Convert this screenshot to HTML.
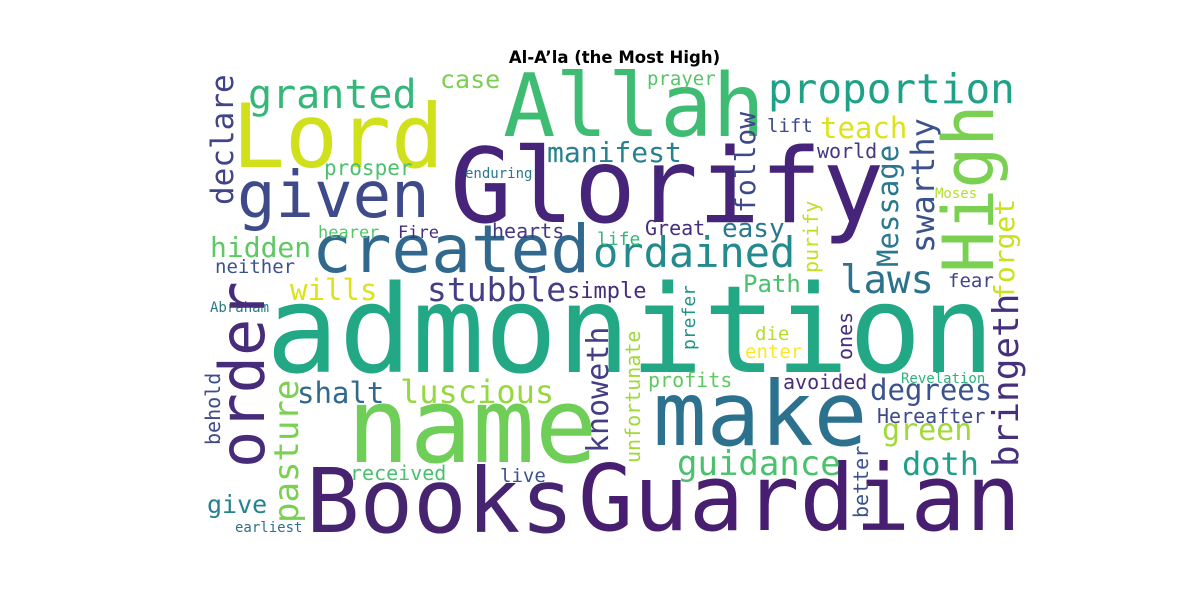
<!DOCTYPE html>
<html><head><meta charset="utf-8">
<style>
html,body{margin:0;padding:0;background:#fff;}
svg text{font-family:"DejaVu Sans Mono","Liberation Mono",monospace;}
</style></head>
<body>
<svg id="cloud" width="1200" height="600" viewBox="0 0 1200 600" xmlns="http://www.w3.org/2000/svg">
<rect width="1200" height="600" fill="#fff"/>
<text x="614.5" y="63" text-anchor="middle" style="font-family:'DejaVu Sans','Liberation Sans',sans-serif;font-weight:bold;font-size:16.5px" fill="#000">Al-A’la (the Most High)</text>
<g id="words"></g>
</svg>
<script>
const words = ["admonition","Glorify","Allah","Lord","given","created","name","make","Books","Guardian","proportion","granted","case","prayer","teach","lift","manifest","world","prosper","enduring","Moses","ordained","easy","laws","hidden","hearer","Fire","hearts","Great","life","neither","wills","stubble","simple","Path","fear","Abraham","die","enter","profits","avoided","Revelation","shalt","luscious","degrees","Hereafter","green","doth","guidance","received","live","give","earliest","High","declare","order","follow","swarthy","Message","purify","forget","bringeth","ones","prefer","unfortunate","knoweth","better","behold","pasture"];
const sizes = [121,103,87,88,64,66,104,89,89,92,41,40,25,19,29,19,28,20,21,14,14,42,26,39,28,17,17,20,20,18,19,29,33,22,24,19,14,19,19,20,20,14,29,32,29,20,30,32,34,20,19,25,14,70,31,62,28,32,29,20,28,36,20,18,20,30,20,20,34];
const colors = ["#22a884","#46247a","#3fbc73","#d0e11c","#3e4a89","#31688e","#6ece58","#2c728e","#46246f","#481f70","#1fa187","#35b779","#7ad151","#54c568","#dde318","#3e4a89","#26828e","#453781","#4ac16d","#2a788e","#b5de2b","#238a8d","#2a788e","#2c728e","#5ec962","#54c568","#472d7b","#443983","#472d7b","#35b779","#3b528b","#dde318","#433e85","#472c7a","#4ac16d","#414487","#2a788e","#b5de2b","#fde725","#5ec962","#472d7b","#2db27d","#31688e","#95d840","#3b528b","#3e4a89","#a0da39","#1f9e89","#4ac16d","#4ac16d","#3b528b","#26828e","#2e6e8e","#7ad151","#414487","#472c7a","#3e4989","#3b528b","#2a788e","#c2df23","#cae11f","#46307e","#472d7b","#20928c","#a0da39","#433e85","#3b528b","#3e4c8a","#7ad151"];
const layoutX = [266,450,503,232,237,312,347,653,306,578,768,248,440,647,820,767,547,817,324,465,935,593,722,840,210,318,398,492,645,597,215,290,427,567,743,948,210,755,745,648,783,901,297,400,870,877,882,902,677,350,500,207,235,993,233,264,755,934,898,818,1014,1018,852,695,640,608,868,220,298];
const layoutY = [372,222,136,167,217,272,462,445,532,530,103,108,88,85,138,132,162,158,175,178,198,267,237,293,257,238,238,238,235,245,273,300,301,298,292,287,312,340,358,387,389,383,403,403,400,423,440,475,475,480,482,513,532,273,205,468,213,253,267,273,300,467,360,350,463,453,518,445,523];
const rotated = [0,0,0,0,0,0,0,0,0,0,0,0,0,0,0,0,0,0,0,0,0,0,0,0,0,0,0,0,0,0,0,0,0,0,0,0,0,0,0,0,0,0,0,0,0,0,0,0,0,0,0,0,0,1,1,1,1,1,1,1,1,1,1,1,1,1,1,1,1];
const g = document.getElementById('words');
for (let i = 0; i < words.length; i++) {
  const t = document.createElementNS('http://www.w3.org/2000/svg','text');
  
  
  t.setAttribute('font-size', sizes[i]);
  t.setAttribute('fill', colors[i]);
  if (rotated[i]) {
    t.setAttribute('transform', 'translate(' + layoutX[i] + ',' + layoutY[i] + ') rotate(-90)');
    t.setAttribute('x', 0); t.setAttribute('y', 0);
  } else {
    t.setAttribute('x', layoutX[i]); t.setAttribute('y', layoutY[i]);
  }
  t.textContent = words[i];
  g.appendChild(t);
}
</script>
</body></html>
